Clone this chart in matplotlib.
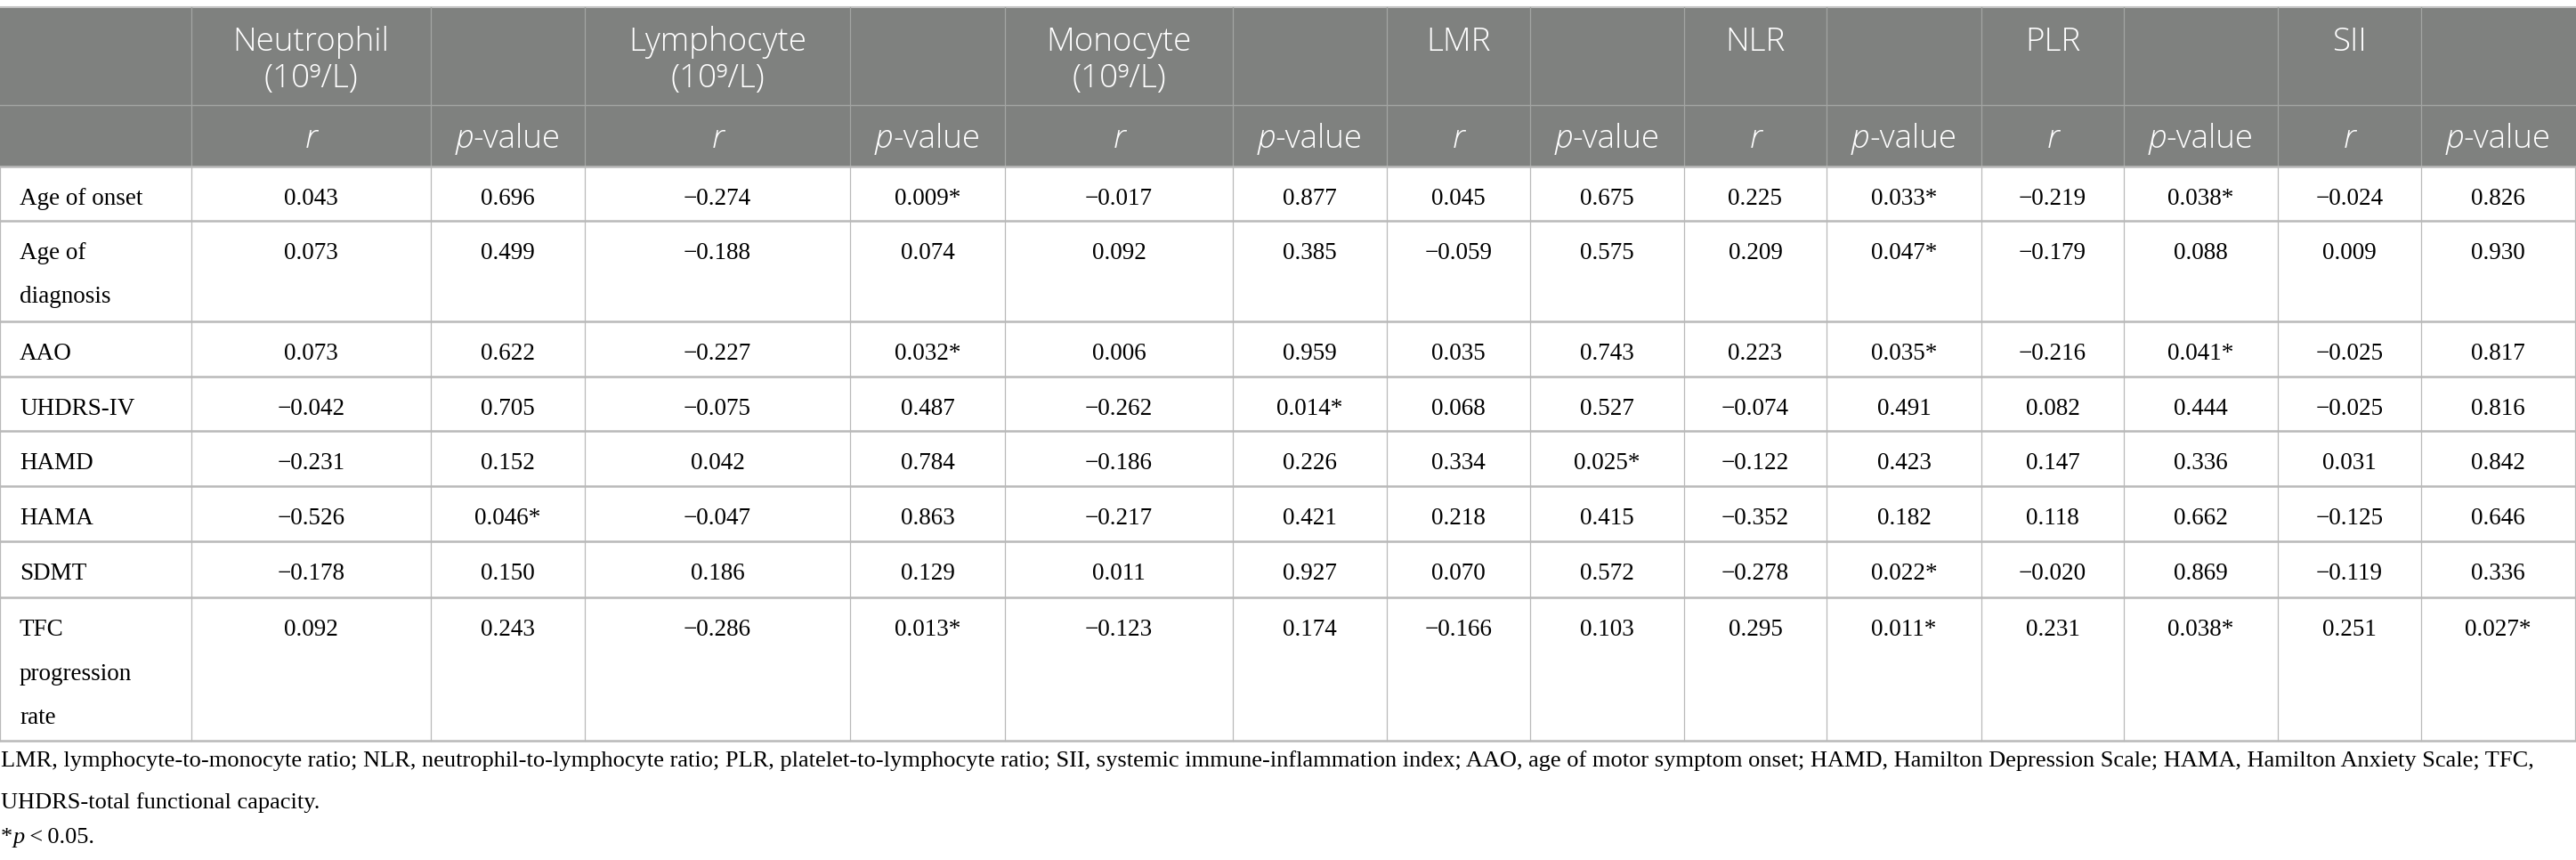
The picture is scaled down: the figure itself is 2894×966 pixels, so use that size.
import matplotlib
matplotlib.use("Agg")
import matplotlib.pyplot as plt
from matplotlib.patches import Rectangle

# ---------------- data ----------------
markers = ["Neutrophil\n(10\u2079/L)", "Lymphocyte\n(10\u2079/L)", "Monocyte\n(10\u2079/L)",
           "LMR", "NLR", "PLR", "SII"]
row_labels = ["Age of onset", "Age of\ndiagnosis", "AAO", "UHDRS-IV", "HAMD", "HAMA",
              "SDMT", "TFC\nprogression\nrate"]

neutrophil_r = [0.043, 0.073, 0.073, -0.042, -0.231, -0.526, -0.178, 0.092]
neutrophil_p = [0.696, 0.499, 0.622, 0.705, 0.152, 0.046, 0.150, 0.243]
lymphocyte_r = [-0.274, -0.188, -0.227, -0.075, 0.042, -0.047, 0.186, -0.286]
lymphocyte_p = [0.009, 0.074, 0.032, 0.487, 0.784, 0.863, 0.129, 0.013]
monocyte_r = [-0.017, 0.092, 0.006, -0.262, -0.186, -0.217, 0.011, -0.123]
monocyte_p = [0.877, 0.385, 0.959, 0.014, 0.226, 0.421, 0.927, 0.174]
lmr_r = [0.045, -0.059, 0.035, 0.068, 0.334, 0.218, 0.070, -0.166]
lmr_p = [0.675, 0.575, 0.743, 0.527, 0.025, 0.415, 0.572, 0.103]
nlr_r = [0.225, 0.209, 0.223, -0.074, -0.122, -0.352, -0.278, 0.295]
nlr_p = [0.033, 0.047, 0.035, 0.491, 0.423, 0.182, 0.022, 0.011]
plr_r = [-0.219, -0.179, -0.216, 0.082, 0.147, 0.118, -0.020, 0.231]
plr_p = [0.038, 0.088, 0.041, 0.444, 0.336, 0.662, 0.869, 0.038]
sii_r = [-0.024, 0.009, -0.025, -0.025, 0.031, -0.125, -0.119, 0.251]
sii_p = [0.826, 0.930, 0.817, 0.816, 0.842, 0.646, 0.336, 0.027]

footnote_1 = ("LMR, lymphocyte-to-monocyte ratio; NLR, neutrophil-to-lymphocyte ratio; "
              "PLR, platelet-to-lymphocyte ratio; SII, systemic immune-inflammation index; "
              "AAO, age of motor symptom onset; HAMD, Hamilton Depression Scale; "
              "HAMA, Hamilton Anxiety Scale; TFC,")
footnote_2 = "UHDRS-total functional capacity."

series = [(neutrophil_r, neutrophil_p), (lymphocyte_r, lymphocyte_p),
          (monocyte_r, monocyte_p), (lmr_r, lmr_p), (nlr_r, nlr_p),
          (plr_r, plr_p), (sii_r, sii_p)]

# ---------------- layout ----------------
W, H = 2894, 966
col_edges = [0, 215, 484, 657, 955, 1129, 1385, 1558, 1719, 1892, 2052, 2226,
             2386, 2559, 2720, 2893]
top = 8
head1_bot = 118
head2_bot = 187
row_edges = [187, 248, 361, 423, 484, 546, 608, 671, 832]

HEAD_BG = "#7f817f"
HEAD_LINE = "#a3a5a3"
BODY_LINE = "#b9b9b9"

SANS = ["Open Sans", "DejaVu Sans"]
SERIF = ["Liberation Serif", "DejaVu Serif"]
HS = 26.5   # header font size (pt)
BS = 19.5   # body font size (pt)

fig = plt.figure(figsize=(W / 100, H / 100), dpi=100)
ax = fig.add_axes([0, 0, 1, 1])
ax.set_xlim(0, W)
ax.set_ylim(H, 0)
ax.axis("off")
renderer = fig.canvas.get_renderer()


def fmt(v):
    return f"{v:.3f}".replace("-", "\u2212")


def seg_text(x, y, segments, ha="center", **kw):
    """Draw list of (text, style) pieces side by side on one baseline."""
    objs = []
    for s, style in segments:
        t = ax.text(0, y, s, va="baseline", ha="left", fontstyle=style, **kw)
        objs.append(t)
    widths = [t.get_window_extent(renderer).width for t in objs]
    total = sum(widths)
    x0 = x - total / 2 if ha == "center" else x
    for t, w in zip(objs, widths):
        t.set_x(x0)
        x0 += w


# header background
ax.add_patch(Rectangle((0, top), W, head2_bot - top, facecolor=HEAD_BG,
                       edgecolor="none", zorder=0))

# header lines
ax.plot([0, W], [top, top], color="#c4c4c4", lw=1.5, zorder=2)
ax.plot([0, W], [head1_bot, head1_bot], color=HEAD_LINE, lw=1.0, zorder=2)
for xe in col_edges[1:-1]:
    ax.plot([xe, xe], [top, head2_bot], color=HEAD_LINE, lw=0.9, zorder=2)

# body lines
for ye in row_edges:
    ax.plot([0, W], [ye, ye], color=BODY_LINE, lw=1.8, zorder=2)
for xe in col_edges:
    ax.plot([xe, xe], [row_edges[0], row_edges[-1]], color=BODY_LINE, lw=0.9, zorder=2)

# header text
for i, m in enumerate(markers):
    cx = (col_edges[1 + 2 * i] + col_edges[2 + 2 * i]) / 2
    cx_p = (col_edges[2 + 2 * i] + col_edges[3 + 2 * i]) / 2
    for k, line in enumerate(m.split("\n")):
        ax.text(cx, 57 + 41 * k, line, ha="center", va="baseline", fontsize=HS,
                color="white", family=SANS, fontweight="light")
    ax.text(cx, 166, "r", ha="center", va="baseline", fontsize=HS, color="white",
            family=SANS, fontstyle="italic", fontweight="light")
    seg_text(cx_p, 166, [("p", "italic"), ("-value", "normal")], fontsize=HS,
             color="white", family=SANS, fontweight="light")

# body text
LINE = 49.5
for j, lab in enumerate(row_labels):
    base = row_edges[j] + 43
    for k, line in enumerate(lab.split("\n")):
        ax.text(22, base + LINE * k, line, ha="left", va="baseline", fontsize=BS,
                family=SERIF, color="black")
    for i, (rv, pv) in enumerate(series):
        cx = (col_edges[1 + 2 * i] + col_edges[2 + 2 * i]) / 2
        cx_p = (col_edges[2 + 2 * i] + col_edges[3 + 2 * i]) / 2
        ax.text(cx, base, fmt(rv[j]), ha="center", va="baseline", fontsize=BS,
                family=SERIF, color="black")
        ptxt = fmt(pv[j]) + ("*" if pv[j] < 0.05 else "")
        ax.text(cx_p, base, ptxt, ha="center", va="baseline", fontsize=BS,
                family=SERIF, color="black")

# footnotes
FS = 19.0
ax.text(1, 861, footnote_1, ha="left", va="baseline", fontsize=FS, family=SERIF,
        color="black")
ax.text(1, 908, footnote_2, ha="left", va="baseline", fontsize=FS, family=SERIF,
        color="black")
seg_text(1, 947, [("*", "normal"), ("p", "italic"), ("\u2009<\u20090.05.", "normal")],
         ha="left", fontsize=FS, family=SERIF, color="black")

fig.savefig("out.png", dpi=100, facecolor="white")
